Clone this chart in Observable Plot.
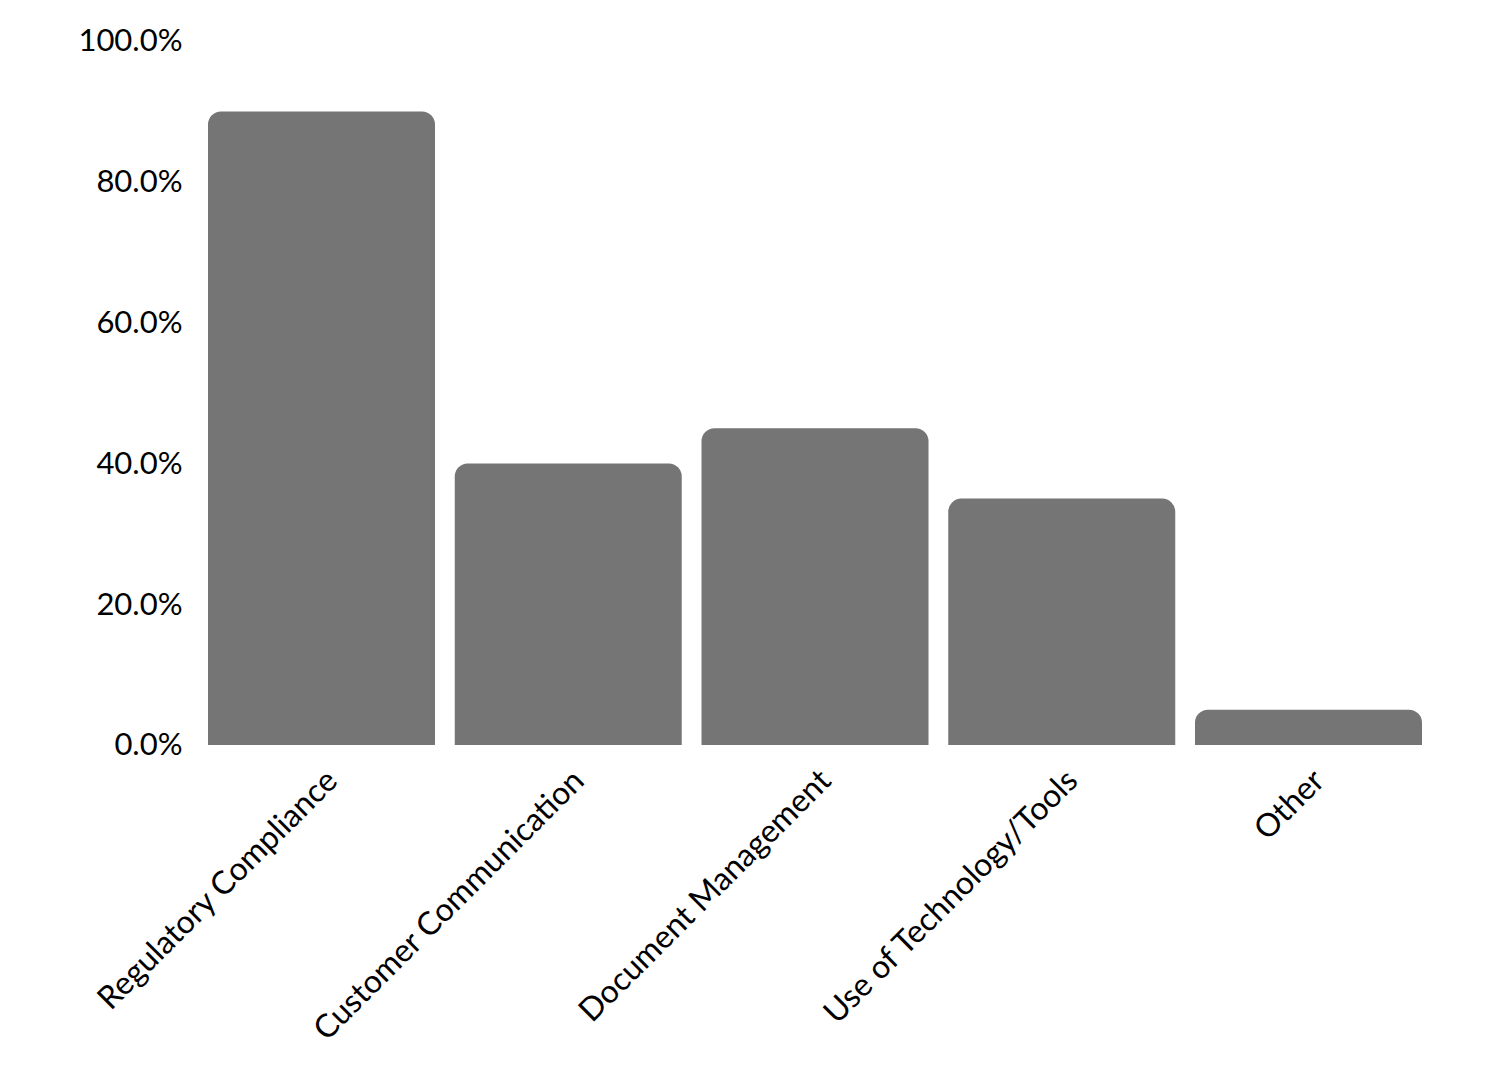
<!DOCTYPE html>
<html>
<head>
<meta charset="utf-8">
<script src="https://cdn.jsdelivr.net/npm/d3@7"></script>
<script src="https://cdn.jsdelivr.net/npm/@observablehq/plot@0.6"></script>
<style>
  html, body { margin: 0; padding: 0; background: #fff; }
  #chart svg { display: block; }
</style>
</head>
<body>
<div id="chart"></div>
<script>
const categories = ["Regulatory Compliance", "Customer Communication", "Document Management", "Use of Technology/Tools", "Other"];
const values = [90, 40, 45, 35, 5];
const yTicks = [0, 20, 40, 60, 80, 100];

const data = categories.map((c, i) => ({category: c, value: values[i]}));

const chart = Plot.plot({
  width: 1500,
  height: 1071,
  marginTop: 41,
  marginBottom: 326,
  marginLeft: 208,
  marginRight: 78,
  style: {fontFamily: "Lato, 'Noto Sans', sans-serif", fontSize: "30px", color: "#000", background: "#fff"},
  x: {domain: categories, paddingInner: 0.08, paddingOuter: 0, round: false, label: null},
  y: {domain: [0, 100], label: null},
  marks: [
    Plot.barY(data, {x: "category", y: "value", fill: "#757575", ry1: 13}),
    Plot.axisX({tickSize: 0, tickPadding: 30, tickRotate: -45, fontSize: 32, dx: 10, label: null}),
    Plot.axisY({ticks: yTicks, tickFormat: d => d3.format(".1f")(d) + "%", tickSize: 0, tickPadding: 26, fontSize: 31, label: null})
  ]
});
document.getElementById("chart").appendChild(chart);
</script>
</body>
</html>
